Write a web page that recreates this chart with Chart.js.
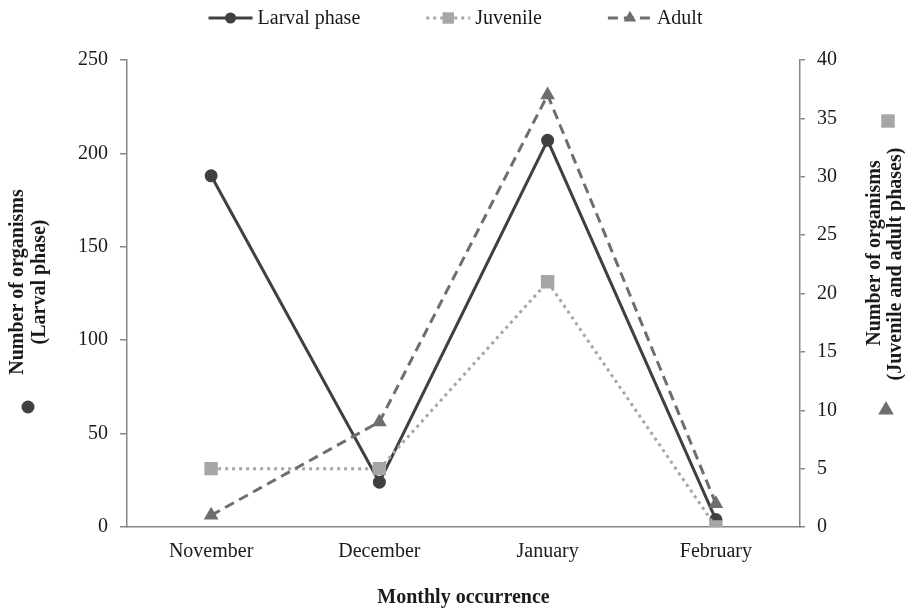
<!DOCTYPE html>
<html>
<head>
<meta charset="utf-8">
<title>Monthly occurrence</title>
<script src="https://cdn.jsdelivr.net/npm/chart.js"></script>
<style>
  html, body { margin: 0; padding: 0; background: #fff; }
  #wrap { width: 905px; height: 613px; }
</style>
</head>
<body>
<div id="wrap"><canvas id="chart" width="905" height="613"></canvas></div>
<script>
const months = ['November', 'December', 'January', 'February'];
const larval = [188, 24, 207, 4];
const juvenile = [5, 5, 21, 0];
const adult = [1, 9, 37, 2];

const FONT = '"Liberation Serif", "Times New Roman", serif';
const AXIS = '#868686';
const TEXT = '#1a1a1a';

const styles = [
  { label: 'Larval phase', color: '#404040', dash: [], point: 'circle', radius: 6.5 },
  { label: 'Juvenile', color: '#a6a6a6', dash: [3, 4], point: 'rect', radius: 9.5 },
  { label: 'Adult', color: '#6e6e6e', dash: [10, 6], point: 'triangle', radius: 8.5 },
];

function marker(ctx, kind, x, y, r, color) {
  ctx.save();
  ctx.fillStyle = color;
  ctx.beginPath();
  if (kind === 'circle') {
    ctx.arc(x, y, r, 0, Math.PI * 2);
  } else if (kind === 'rect') {
    const s = r * Math.SQRT1_2;
    ctx.rect(x - s, y - s, s * 2, s * 2);
  } else {
    const h = r * 1.5;
    const w = r * Math.sqrt(3) / 2;
    ctx.moveTo(x, y - r);
    ctx.lineTo(x + w, y + h - r);
    ctx.lineTo(x - w, y + h - r);
    ctx.closePath();
  }
  ctx.fill();
  ctx.restore();
}

const decorations = {
  id: 'decorations',
  afterDraw(chart) {
    const ctx = chart.ctx;
    ctx.save();

    // legend
    ctx.font = '20px ' + FONT;
    ctx.textBaseline = 'middle';
    ctx.fillStyle = TEXT;
    const sample = 44;
    const gapText = 5;
    const gapItem = 66;
    const widths = styles.map((s) => ctx.measureText(s.label).width);
    const total = widths.reduce((a, b) => a + b, 0) + styles.length * (sample + gapText) + gapItem * (styles.length - 1);
    let x = (chart.chartArea.left + chart.chartArea.right) / 2 - total / 2 - 8;
    const ly = 18;
    styles.forEach((s, i) => {
      ctx.save();
      ctx.strokeStyle = s.color;
      ctx.lineWidth = 3;
      ctx.setLineDash(s.dash);
      ctx.beginPath();
      ctx.moveTo(x, ly);
      ctx.lineTo(x + sample, ly);
      ctx.stroke();
      ctx.restore();
      marker(ctx, s.point, x + sample / 2, ly, s.radius * 0.85, s.color);
      ctx.fillStyle = TEXT;
      ctx.textAlign = 'left';
      ctx.fillText(s.label, x + sample + gapText, ly + 1);
      x += sample + gapText + widths[i] + gapItem;
    });

    // left axis title
    ctx.font = 'bold 20px ' + FONT;
    ctx.textAlign = 'center';
    ctx.fillStyle = TEXT;
    ctx.save();
    ctx.translate(18, 282);
    ctx.rotate(-Math.PI / 2);
    ctx.fillText('Number of organisms', 0, 0);
    ctx.restore();
    ctx.save();
    ctx.translate(40, 282);
    ctx.rotate(-Math.PI / 2);
    ctx.fillText('(Larval phase)', 0, 0);
    ctx.restore();
    marker(ctx, 'circle', 28, 407, 6.5, styles[0].color);

    // right axis title
    ctx.save();
    ctx.translate(875, 253);
    ctx.rotate(-Math.PI / 2);
    ctx.fillText('Number of organisms', 0, 0);
    ctx.restore();
    ctx.save();
    ctx.translate(896, 264);
    ctx.rotate(-Math.PI / 2);
    ctx.fillText('(Juvenile and adult phases)', 0, 0);
    ctx.restore();
    marker(ctx, 'rect', 888, 121, 9.5, styles[1].color);
    marker(ctx, 'triangle', 886, 410, 9, styles[2].color);

    ctx.restore();
  },
};

const series = [larval, juvenile, adult];
const axes = ['y', 'y1', 'y1'];
const orders = [3, 2, 1];

new Chart(document.getElementById('chart'), {
  type: 'line',
  data: {
    labels: months,
    datasets: styles.map((s, i) => ({
      label: s.label,
      data: series[i],
      yAxisID: axes[i],
      order: orders[i],
      borderColor: s.color,
      backgroundColor: s.color,
      borderWidth: 3,
      borderDash: s.dash,
      pointStyle: s.point,
      pointRadius: s.radius,
      pointBorderWidth: 0,
      pointBackgroundColor: s.color,
      tension: 0,
      fill: false,
    })),
  },
  options: {
    responsive: false,
    animation: false,
    layout: { padding: { top: 60, left: 0, right: 0, bottom: 0 } },
    plugins: {
      legend: { display: false },
      tooltip: { enabled: false },
    },
    scales: {
      x: {
        offset: true,
        afterFit: (s) => { s.height = 86; },
        grid: { display: false, drawTicks: false },
        border: { display: true, color: AXIS, width: 1.5 },
        ticks: { color: TEXT, font: { family: FONT, size: 20 }, padding: 13, maxRotation: 0 },
        title: {
          display: true,
          text: 'Monthly occurrence',
          color: TEXT,
          font: { family: FONT, size: 20, weight: 'bold' },
          padding: { top: 0, bottom: 3 },
        },
      },
      y: {
        position: 'left',
        min: 0,
        max: 250,
        afterFit: (s) => { s.width = 127; },
        grid: { drawOnChartArea: false, color: AXIS, tickLength: 7, lineWidth: 1.5 },
        border: { display: true, color: AXIS, width: 1.5 },
        ticks: { stepSize: 50, color: TEXT, font: { family: FONT, size: 20 }, padding: 12 },
      },
      y1: {
        position: 'right',
        min: 0,
        max: 40,
        afterFit: (s) => { s.width = 105; },
        grid: { drawOnChartArea: false, color: AXIS, tickLength: 5, lineWidth: 1.5 },
        border: { display: true, color: AXIS, width: 1.5 },
        ticks: { stepSize: 5, color: TEXT, font: { family: FONT, size: 20 }, padding: 12 },
      },
    },
  },
  plugins: [decorations],
});
</script>
</body>
</html>
